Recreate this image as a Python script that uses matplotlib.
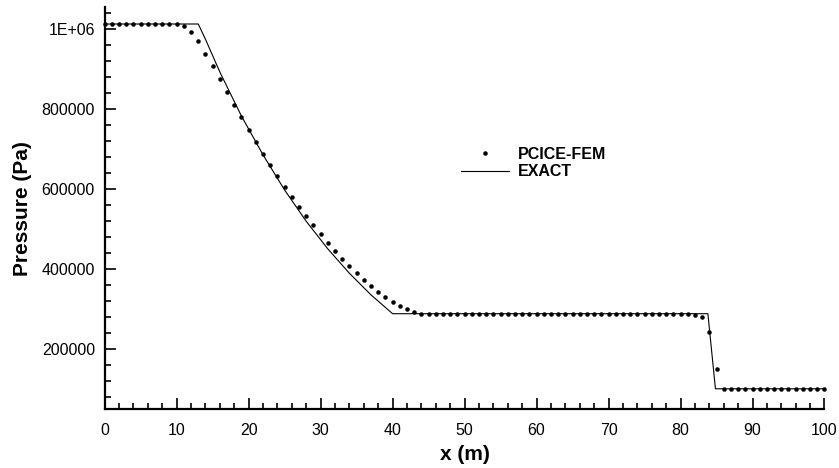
import numpy as np
import matplotlib.pyplot as plt
from matplotlib.ticker import MultipleLocator, FuncFormatter

plt.rcParams['font.family'] = ['Liberation Sans', 'DejaVu Sans']

# PCICE-FEM solution, one point per metre (x = 0..100)
x_num = np.arange(0, 101)
p_left = [1013250] * 11          # x = 0..10
p_fan = [1008000, 994000, 971500, 939000, 908000, 877000, 843500, 811500,
         780500, 749000, 718500, 689000, 661000, 633500, 606000, 581000,
         557000, 533500, 510000, 488500, 467000, 447000, 427000, 408500,
         391000, 374000, 358500, 343500, 330000, 317500, 307500, 301000,
         294500, 289500]          # x = 11..44
p_mid = [288500] * 37            # x = 45..81
p_shock = [286000, 282000, 244000, 150000]   # x = 82..85
p_right = [101325] * 15          # x = 86..100
p_num = np.array(p_left + p_fan + p_mid + p_shock + p_right)

# exact solution
x_exact = [0, 13, 14, 16, 19, 22, 25, 28, 31, 34, 37, 40, 83.8, 84.85, 100]
p_exact = [1013250, 1013250, 975000, 893000, 783000, 686000, 598000, 520000,
           451000, 390000, 336000, 289000, 289000, 101325, 101325]

fig = plt.figure(figsize=(8.39, 4.68), dpi=100)
ax = fig.add_axes([0.1248, 0.1254, 0.8579, 0.859])

ax.plot(x_exact, p_exact, 'k-', lw=0.8, label='EXACT')
ax.plot(x_num, p_num, 'k.', ms=6.5, mec='none', clip_on=False, label='PCICE-FEM')

ax.set_xlim(0, 100)
ax.set_ylim(50000, 1055000)
ax.xaxis.set_major_locator(MultipleLocator(10))
ax.xaxis.set_minor_locator(MultipleLocator(2))
ax.yaxis.set_major_locator(MultipleLocator(200000))
ax.yaxis.set_minor_locator(MultipleLocator(40000))

def fmt(v, pos):
    if v >= 1e6:
        return '1E+06'
    return '%d' % v
ax.yaxis.set_major_formatter(FuncFormatter(fmt))

for s in ['top', 'right']:
    ax.spines[s].set_visible(False)
for s in ['left', 'bottom']:
    ax.spines[s].set_linewidth(1.6)

ax.tick_params(which='both', direction='in', labelsize=11.5, width=1.2)
ax.tick_params(which='major', length=8)
ax.tick_params(which='minor', length=4.5)
ax.tick_params(axis='x', pad=10)
ax.tick_params(axis='y', pad=7)

ax.set_xlabel('x (m)', fontsize=15, fontweight='bold', labelpad=5)
ax.set_ylabel('Pressure (Pa)', fontsize=15, fontweight='bold', labelpad=7)

h, l = ax.get_legend_handles_labels()
leg = ax.legend(h[::-1], l[::-1], loc='upper left', frameon=False,
                bbox_to_anchor=(0.549, 0.686), bbox_transform=fig.transFigure,
                borderpad=0, borderaxespad=0, handlelength=3.0,
                handletextpad=0.6, labelspacing=0.15,
                prop={'size': 11.5, 'weight': 'bold'})

fig.savefig('out.png', dpi=100)
